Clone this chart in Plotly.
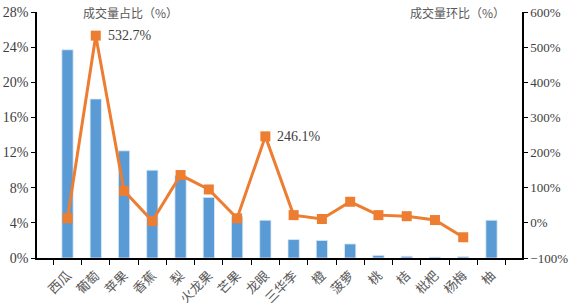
import plotly.graph_objects as go

categories = ["西瓜", "葡萄", "苹果", "香蕉", "梨", "火龙果", "芒果", "龙眼", "三华李", "橙", "菠萝", "桃", "桔", "枇杷", "杨梅", "柚"]
share_pct = [23.7, 18.1, 12.2, 10.0, 9.4, 6.9, 4.7, 4.3, 2.1, 2.0, 1.6, 0.3, 0.2, 0.1, 0.15, 4.3]
mom_pct = [13, 532.7, 91, 5, 136, 95, 13, 246.1, 22, 11, 60, 22, 19, 8, -41, None]
label_points = [("葡萄", 532.7, "532.7%"), ("龙眼", 246.1, "246.1%")]

serif = "Liberation Serif"
cjk = "Noto Sans CJK SC"

fig = go.Figure()
fig.add_trace(go.Bar(x=categories, y=share_pct, marker=dict(color="#5B9BD5", line=dict(color="#DDEBF7", width=0.8)), yaxis="y"))
fig.add_trace(go.Scatter(x=categories, y=mom_pct, mode="lines+markers", yaxis="y2",
                         line=dict(color="#ED7D31", width=3),
                         marker=dict(symbol="square", size=10, color="#ED7D31")))

for cat, val, txt in label_points:
    fig.add_annotation(x=cat, y=val, xref="x", yref="y2", text=txt, showarrow=False,
                       xanchor="left", yanchor="middle", xshift=10,
                       font=dict(family=serif, size=14, color="#404040"))

fig.add_annotation(x=0.09, y=1.0, xref="paper", yref="paper", text="成交量占比（%）", showarrow=False,
                   xanchor="left", yanchor="top", yshift=10, font=dict(family=cjk, size=12, color="#595959"))
fig.add_annotation(x=0.99, y=1.0, xref="paper", yref="paper", text="成交量环比（%）", showarrow=False,
                   xanchor="right", yanchor="top", yshift=10, xshift=-10, font=dict(family=cjk, size=12, color="#595959"))

fig.update_layout(
    template="none",
    width=574, height=303,
    margin=dict(l=37, r=52, t=12, b=45),
    showlegend=False,
    bargap=0.6,
    paper_bgcolor="white", plot_bgcolor="white",
    xaxis=dict(type="category", showline=True, linecolor="black", linewidth=1.5,
               ticks="outside", tickson="boundaries", ticklen=5, tickcolor="black",
               tickangle=-45, automargin=False, showgrid=False, zeroline=False,
               ticklabelstandoff=3,
               tickfont=dict(family=cjk, size=13, color="#595959")),
    yaxis=dict(range=[0, 28], dtick=4, ticksuffix="%", showline=True, linecolor="black", linewidth=1.5,
               ticks="outside", ticklen=4, tickcolor="black", showgrid=False, zeroline=False,
               automargin=False, tickfont=dict(family=serif, size=14, color="#404040")),
    yaxis2=dict(range=[-100, 600], dtick=100, ticksuffix="%", overlaying="y", side="right",
                showline=True, linecolor="black", linewidth=1.5, ticks="outside", ticklen=4,
                tickcolor="black", showgrid=False, zeroline=False, automargin=False,
                tickfont=dict(family=serif, size=13, color="#404040")),
)

fig.write_html("out.html")
